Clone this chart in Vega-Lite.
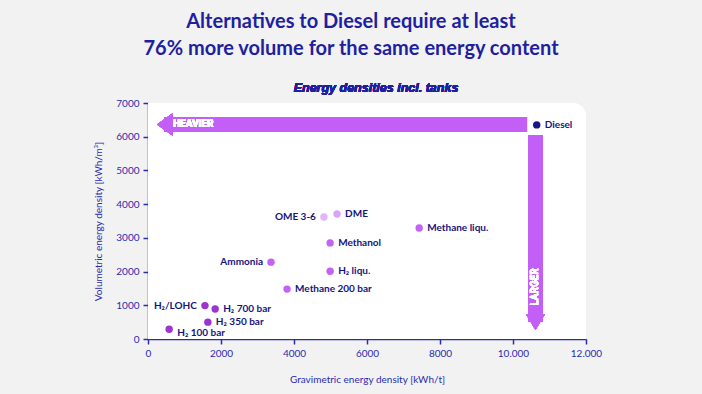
{
  "$schema": "https://vega.github.io/schema/vega-lite/v6.json",
  "width": 438,
  "height": 236,
  "autosize": "none",
  "padding": {"left": 148, "top": 103, "right": 116, "bottom": 55},
  "background": "#f2f2f2",
  "config": {
    "view": {"stroke": null},
    "font": "Lato",
    "axis": {
      "domainColor": "#2b2bb0",
      "domainWidth": 1.5,
      "tickColor": "#2b2bb0",
      "tickWidth": 1.5,
      "tickSize": 5,
      "labelColor": "#2b2bb0",
      "labelFont": "Lato",
      "labelFontSize": 10,
      "titleColor": "#2b2bb0",
      "titleFont": "Lato",
      "titleFontSize": 10,
      "titleFontWeight": "normal",
      "grid": false
    }
  },
  "title": {
    "text": ["Alternatives to Diesel require at least", "76% more volume for the same energy content"],
    "fontSize": 20,
    "font": "Lato",
    "fontWeight": "bold",
    "color": "#1f1fa0",
    "lineHeight": 27,
    "anchor": "middle",
    "dx": -16,
    "offset": 23
  },
  "data": {
    "values": [
      {"fuel": "Diesel", "grav": 10650, "vol": 6350, "group": "Diesel", "side": "right"},
      {"fuel": "DME", "grav": 5180, "vol": 3710, "group": "Ether", "side": "right"},
      {"fuel": "OME 3-6", "grav": 4820, "vol": 3620, "group": "Ether2", "side": "left"},
      {"fuel": "Methanol", "grav": 4990, "vol": 2850, "group": "Other", "side": "right"},
      {"fuel": "Methane liqu.", "grav": 7430, "vol": 3290, "group": "Other", "side": "right"},
      {"fuel": "Ammonia", "grav": 3370, "vol": 2280, "group": "Other", "side": "left"},
      {"fuel": "H₂ liqu.", "grav": 4990, "vol": 2010, "group": "Other", "side": "right"},
      {"fuel": "Methane 200 bar", "grav": 3810, "vol": 1480, "group": "Other", "side": "right"},
      {"fuel": "H₂/LOHC", "grav": 1560, "vol": 990, "group": "Hydrogen", "side": "left"},
      {"fuel": "H₂ 700 bar", "grav": 1840, "vol": 890, "group": "Hydrogen", "side": "right"},
      {"fuel": "H₂ 350 bar", "grav": 1640, "vol": 500, "group": "Hydrogen", "side": "right"},
      {"fuel": "H₂ 100 bar", "grav": 580, "vol": 290, "group": "Hydrogen", "side": "below"}
    ]
  },
  "layer": [
    {
      "mark": {"type": "rect", "fill": "white", "cornerRadiusTopRight": 14},
      "encoding": {
        "x": {
          "datum": 0,
          "type": "quantitative",
          "scale": {"domain": [0, 12000], "nice": false},
          "axis": {
            "title": "Gravimetric energy density [kWh/t]",
            "values": [0, 2000, 4000, 6000, 8000, 10000, 12000],
            "tickCount": 20,
            "labelExpr": "datum.value >= 10000 ? format(datum.value / 1000, 'd') + '.000' : '' + datum.value",
            "labelOverlap": false,
            "labelFlush": false,
            "labelBound": false,
            "titlePadding": 16,
            "labelPadding": 4
          }
        },
        "x2": {"datum": 12000},
        "y": {
          "datum": 0,
          "type": "quantitative",
          "scale": {"domain": [0, 7000], "nice": false},
          "axis": {
            "title": "Volumetric energy density [kWh/m³]",
            "values": [0, 1000, 2000, 3000, 4000, 5000, 6000, 7000],
            "tickCount": 20,
            "format": "d",
            "labelOverlap": false,
            "labelFlush": false,
            "labelBound": false,
            "titlePadding": 12,
            "labelPadding": 4
          }
        },
        "y2": {"datum": 7000}
      }
    },
    {
      "mark": {"type": "rect", "fill": "#c35ff7"},
      "encoding": {
        "x": {"datum": 450, "type": "quantitative"},
        "x2": {"datum": 10384},
        "y": {"datum": 6141, "type": "quantitative"},
        "y2": {"datum": 6586}
      }
    },
    {
      "mark": {"type": "point", "filled": true, "opacity": 1, "fill": "#c35ff7", "strokeWidth": 0, "shape": "M -0.7 0 L 0.7 -1 L 0.7 1 Z", "size": 484},
      "encoding": {
        "x": {"datum": 458, "type": "quantitative"},
        "y": {"datum": 6363, "type": "quantitative"}
      }
    },
    {
      "mark": {"type": "rect", "fill": "#c35ff7"},
      "encoding": {
        "x": {"datum": 10411, "type": "quantitative"},
        "x2": {"datum": 10822},
        "y": {"datum": 504, "type": "quantitative"},
        "y2": {"datum": 6052}
      }
    },
    {
      "mark": {"type": "point", "filled": true, "opacity": 1, "fill": "#c35ff7", "strokeWidth": 0, "shape": "M 0 0.85 L -1 -0.85 L 1 -0.85 Z", "size": 361},
      "encoding": {
        "x": {"datum": 10616, "type": "quantitative"},
        "y": {"datum": 504, "type": "quantitative"}
      }
    },
    {
      "mark": {"type": "text", "text": "HEAVIER", "align": "left", "baseline": "middle", "color": "white", "fontWeight": "bold", "fontSize": 10, "font": "Roboto"},
      "encoding": {
        "x": {"datum": 685, "type": "quantitative"},
        "y": {"datum": 6363, "type": "quantitative"}
      }
    },
    {
      "mark": {"type": "text", "text": "LARGER", "align": "center", "baseline": "middle", "angle": 270, "color": "white", "fontWeight": "bold", "fontSize": 10, "font": "Roboto"},
      "encoding": {
        "x": {"datum": 10616, "type": "quantitative"},
        "y": {"datum": 1543, "type": "quantitative"}
      }
    },
    {
      "mark": {"type": "text", "text": "Energy densities incl. tanks", "align": "center", "baseline": "middle", "color": "#1f1fa0", "fontWeight": "bold", "fontStyle": "italic", "fontSize": 12.5, "font": "Liberation Sans"},
      "encoding": {
        "x": {"datum": 6247, "type": "quantitative"},
        "y": {"datum": 7446, "type": "quantitative"}
      }
    },
    {
      "mark": {"type": "circle", "size": 55, "opacity": 1},
      "encoding": {
        "x": {"field": "grav", "type": "quantitative"},
        "y": {"field": "vol", "type": "quantitative"},
        "color": {
          "field": "group",
          "type": "nominal",
          "legend": null,
          "scale": {
            "domain": ["Diesel", "Ether", "Ether2", "Other", "Hydrogen"],
            "range": ["#161688", "#d9a3f6", "#e2b6f8", "#c462f5", "#9b34d0"]
          }
        }
      }
    },
    {
      "transform": [{"filter": "datum.side == 'right'"}],
      "mark": {"type": "text", "align": "left", "baseline": "middle", "dx": 8, "fontWeight": "bold", "fontSize": 10, "font": "Lato", "color": "#141480"},
      "encoding": {
        "x": {"field": "grav", "type": "quantitative"},
        "y": {"field": "vol", "type": "quantitative"},
        "text": {"field": "fuel"}
      }
    },
    {
      "transform": [{"filter": "datum.side == 'left'"}],
      "mark": {"type": "text", "align": "right", "baseline": "middle", "dx": -8, "fontWeight": "bold", "fontSize": 10, "font": "Lato", "color": "#141480"},
      "encoding": {
        "x": {"field": "grav", "type": "quantitative"},
        "y": {"field": "vol", "type": "quantitative"},
        "text": {"field": "fuel"}
      }
    },
    {
      "transform": [{"filter": "datum.side == 'below'"}],
      "mark": {"type": "text", "align": "left", "baseline": "middle", "dx": 8, "dy": 4, "fontWeight": "bold", "fontSize": 10, "font": "Lato", "color": "#141480"},
      "encoding": {
        "x": {"field": "grav", "type": "quantitative"},
        "y": {"field": "vol", "type": "quantitative"},
        "text": {"field": "fuel"}
      }
    }
  ]
}
